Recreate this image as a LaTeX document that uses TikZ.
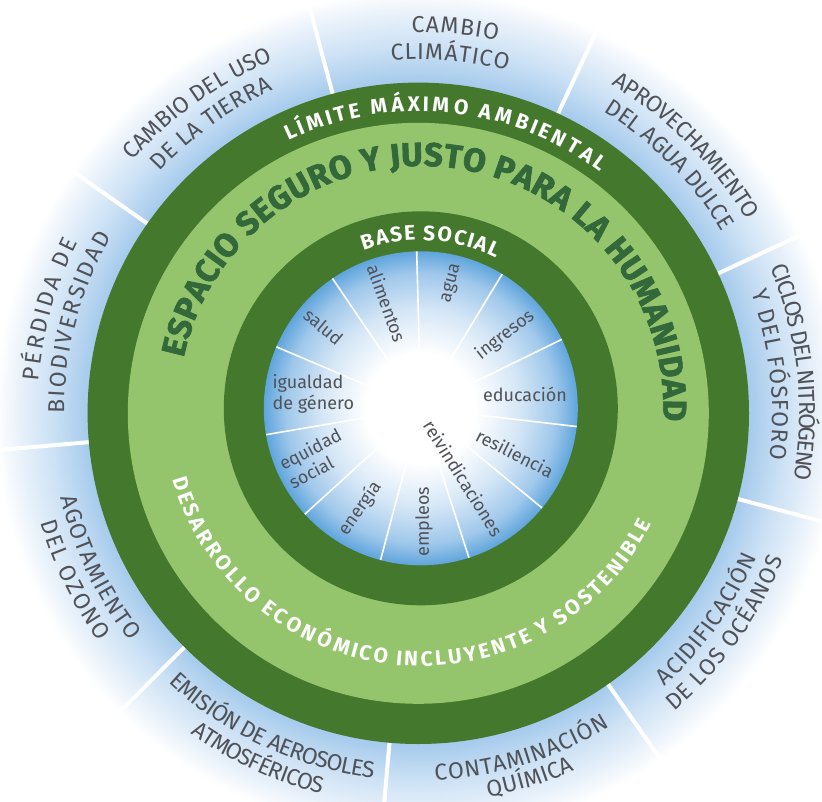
\documentclass[tikz,border=0pt]{standalone}
\usepackage{fontspec}
\setmainfont{Fira Sans}
\newfontfamily\heavyfont[FakeBold=2]{Fira Sans}
\usetikzlibrary{decorations.text}

\definecolor{darkring}{RGB}{67,120,45}
\definecolor{lightring}{RGB}{148,196,107}
\definecolor{titlegreen}{RGB}{50,104,58}
\definecolor{labelgray}{RGB}{80,82,88}
\definecolor{glowblue}{RGB}{165,202,236}
\definecolor{glowmid}{RGB}{205,226,245}
\definecolor{glowpale}{RGB}{232,241,250}
\definecolor{coreblue}{RGB}{95,165,220}
\definecolor{coremid}{RGB}{160,200,235}
\definecolor{corepale}{RGB}{212,230,246}

\pgfdeclareradialshading{outerglow}{\pgfpoint{0bp}{0bp}}{color(0bp)=(glowblue); color(19.2bp)=(glowblue); color(21.4bp)=(glowmid); color(23.2bp)=(glowpale); color(24.6bp)=(white); color(50bp)=(white)}
\pgfdeclareradialshading{corefade}{\pgfpoint{0bp}{0bp}}{color(0bp)=(white); color(8.8bp)=(white); color(15.9bp)=(corepale); color(21.5bp)=(coremid); color(25bp)=(coreblue); color(50bp)=(coreblue)}

\begin{document}
\begin{tikzpicture}[x=1pt,y=1pt,
  outerrule/.style={white, line width=4pt},
  corerule/.style={white, line width=1.6pt},
  corelabel/.style={text=labelgray, inner sep=0pt, font=\fontsize{18pt}{21pt}\selectfont},
  ringtext/.style={decorate, decoration={text effects along path, text={#1},
    text effects/.cd, text along path, fit text to path, characters={text=white, inner sep=0pt}}},
  titletext/.style={decorate, decoration={text effects along path, text={#1},
    text effects/.cd, text along path, fit text to path, characters={text=titlegreen, inner sep=0pt}}},
  boundarytext/.style={decorate, decoration={text effects along path, text={#1},
    text effects/.cd, text along path, fit text to path, characters={text=labelgray, inner sep=0pt}}}]
\useasboundingbox (0,0) rectangle (822,-802);
\fill[white] (0,0) rectangle (822,-802);
\coordinate (O1) at (418.3,-413.3);
\coordinate (O2) at (420.8,-408.3);

% outer band
\shade[shading=outerglow] (O1) circle[radius=430pt];
\draw[outerrule] ([shift={(105:328pt)}]O1) -- ([shift={(105:425pt)}]O1);
\draw[outerrule] ([shift={(65:328pt)}]O1) -- ([shift={(65:425pt)}]O1);
\draw[outerrule] ([shift={(25:328pt)}]O1) -- ([shift={(25:425pt)}]O1);
\draw[outerrule] ([shift={(-15:328pt)}]O1) -- ([shift={(-15:425pt)}]O1);
\draw[outerrule] ([shift={(-55:328pt)}]O1) -- ([shift={(-55:425pt)}]O1);
\draw[outerrule] ([shift={(-95:328pt)}]O1) -- ([shift={(-95:425pt)}]O1);
\draw[outerrule] ([shift={(-135:328pt)}]O1) -- ([shift={(-135:425pt)}]O1);
\draw[outerrule] ([shift={(-175:328pt)}]O1) -- ([shift={(-175:425pt)}]O1);
\draw[outerrule] ([shift={(145:328pt)}]O1) -- ([shift={(145:425pt)}]O1);

% rings
\fill[darkring] (O1) circle[radius=330.7pt];
\fill[lightring] (O1) circle[radius=290.5pt];
\fill[darkring] (O2) circle[radius=197pt];
\shade[shading=corefade] (O2) circle[radius=157pt];

% inner sectors
\draw[corerule] ([shift={(91.5:58pt)}]O2) -- ([shift={(91.5:157pt)}]O2);
\draw[corerule] ([shift={(58.77:58pt)}]O2) -- ([shift={(58.77:157pt)}]O2);
\draw[corerule] ([shift={(26.05:58pt)}]O2) -- ([shift={(26.05:157pt)}]O2);
\draw[corerule] ([shift={(-6.68:58pt)}]O2) -- ([shift={(-6.68:157pt)}]O2);
\draw[corerule] ([shift={(-39.41:58pt)}]O2) -- ([shift={(-39.41:157pt)}]O2);
\draw[corerule] ([shift={(-72.14:58pt)}]O2) -- ([shift={(-72.14:157pt)}]O2);
\draw[corerule] ([shift={(-104.86:58pt)}]O2) -- ([shift={(-104.86:157pt)}]O2);
\draw[corerule] ([shift={(-137.59:58pt)}]O2) -- ([shift={(-137.59:157pt)}]O2);
\draw[corerule] ([shift={(-170.32:58pt)}]O2) -- ([shift={(-170.32:157pt)}]O2);
\draw[corerule] ([shift={(156.95:58pt)}]O2) -- ([shift={(156.95:157pt)}]O2);
\draw[corerule] ([shift={(124.23:58pt)}]O2) -- ([shift={(124.23:157pt)}]O2);

\node[corelabel, rotate=75] (agua) at (451.7,-283.3) {agua};
\node[corelabel, rotate=38] (ingresos) at (505,-335) {ingresos};
\node[corelabel] (educacion) at (525,-394) {educación};
\node[corelabel, rotate=-27] (resiliencia) at (515,-453.3) {resiliencia};
\node[corelabel, rotate=-58] (reivindicaciones) at (463.3,-478.3) {reivindicaciones};
\node[corelabel, rotate=90] (empleos) at (424,-521.7) {empleos};
\node[corelabel, rotate=55] (energia) at (360,-508.3) {energía};
\node[corelabel, rotate=28, align=left] (equidad) at (315,-458.3) {equidad\\social};
\node[corelabel, align=left] (igualdad) at (313.3,-394) {igualdad\\de género};
\node[corelabel, rotate=-40] (salud) at (323.3,-326.7) {salud};
\node[corelabel, rotate=-70] (alimentos) at (386.7,-303.3) {alimentos};

% ring captions
\begin{scope}
\bfseries\fontsize{21pt}{23pt}\selectfont
\path[ringtext={LÍMITE MÁXIMO AMBIENTAL}] ([shift={(115.5:302pt)}]O1) arc[start angle=115.5, end angle=53, radius=302pt];
\path[ringtext={BASE SOCIAL}] ([shift={(110:168pt)}]O2) arc[start angle=110, end angle=63.5, radius=168pt];
\path[ringtext={DESARROLLO ECONÓMICO INCLUYENTE Y SOSTENIBLE}] ([shift={(196:258pt)}]O2) arc[start angle=196, end angle=333.5, radius=258pt];
\end{scope}
\begin{scope}
\heavyfont\bfseries\fontsize{33pt}{35pt}\selectfont
\path[titletext={ESPACIO SEGURO Y JUSTO PARA LA HUMANIDAD}] ([shift={(168:242.5pt)}]O2) arc[start angle=168, end angle=-3, radius=242.5pt];
\end{scope}

% planetary boundaries
\begin{scope}
\fontsize{23pt}{26pt}\selectfont
\path[boundarytext={CAMBIO}] ([shift={(91:381pt)}]O1) arc[start angle=91, end angle=78, radius=381pt];
\path[boundarytext={CLIMÁTICO}] ([shift={(94.4:354pt)}]O1) arc[start angle=94.4, end angle=75.4, radius=354pt];
\path[boundarytext={CAMBIO DEL USO}] ([shift={(138.5:381pt)}]O1) arc[start angle=138.5, end angle=112.4, radius=381pt];
\path[boundarytext={DE LA TIERRA}] ([shift={(137:354pt)}]O1) arc[start angle=137, end angle=114.2, radius=354pt];
\path[boundarytext={APROVECHAMIENTO}] ([shift={(59.6:381pt)}]O1) arc[start angle=59.6, end angle=30.4, radius=381pt];
\path[boundarytext={DEL AGUA DULCE}] ([shift={(58.4:354pt)}]O1) arc[start angle=58.4, end angle=30.9, radius=354pt];
\path[boundarytext={CICLOS DEL NITRÓGENO}] ([shift={(22.5:381pt)}]O1) arc[start angle=22.5, end angle=-10, radius=381pt];
\path[boundarytext={Y DEL FÓSFORO}] ([shift={(20:354pt)}]O1) arc[start angle=20, end angle=-7.5, radius=354pt];
\path[boundarytext={PÉRDIDA DE}] ([shift={(175.2:381pt)}]O1) arc[start angle=175.2, end angle=153.4, radius=381pt];
\path[boundarytext={BIODIVERSIDAD}] ([shift={(180:354pt)}]O1) arc[start angle=180, end angle=150, radius=354pt];
\path[boundarytext={AGOTAMIENTO}] ([shift={(193.3:367.5pt)}]O1) arc[start angle=193.3, end angle=218.3, radius=367.5pt];
\path[boundarytext={DEL OZONO}] ([shift={(196.2:393pt)}]O1) arc[start angle=196.2, end angle=215.5, radius=393pt];
\path[boundarytext={EMISIÓN DE AEROSOLES}] ([shift={(227.2:367.5pt)}]O1) arc[start angle=227.2, end angle=263, radius=367.5pt];
\path[boundarytext={ATMOSFÉRICOS}] ([shift={(234.6:393pt)}]O1) arc[start angle=234.6, end angle=255.7, radius=393pt];
\path[boundarytext={CONTAMINACIÓN}] ([shift={(272.6:367.5pt)}]O1) arc[start angle=272.6, end angle=301.4, radius=367.5pt];
\path[boundarytext={QUÍMICA}] ([shift={(280.3:390pt)}]O1) arc[start angle=280.3, end angle=293.7, radius=390pt];
\path[boundarytext={ACIDIFICACIÓN}] ([shift={(312.1:367.5pt)}]O1) arc[start angle=312.1, end angle=337, radius=367.5pt];
\path[boundarytext={DE LOS OCÉANOS}] ([shift={(310.6:393pt)}]O1) arc[start angle=310.6, end angle=338.2, radius=393pt];
\end{scope}
\end{tikzpicture}
\end{document}
